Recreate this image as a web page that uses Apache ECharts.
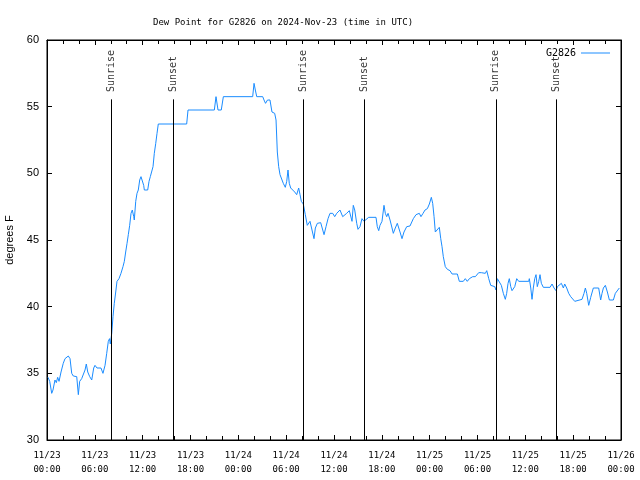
<!DOCTYPE html>
<html><head><meta charset="utf-8">
<script src="https://cdn.jsdelivr.net/npm/echarts@6/dist/echarts.min.js"></script>
<style>html,body{margin:0;padding:0;background:#fff}#c{width:640px;height:480px}</style>
</head><body><div id="c"></div>
<script>
// hours since 2024-11-23 00:00 UTC
const hours = [0.13,0.34,0.59,0.75,1.00,1.17,1.34,1.51,1.76,2.04,2.26,2.67,2.89,3.10,3.30,3.51,3.73,3.93,4.10,4.35,4.55,4.77,4.93,5.11,5.36,5.61,5.86,6.02,6.27,6.52,6.77,7.02,7.28,7.49,7.69,7.84,7.94,8.03,8.12,8.28,8.44,8.62,8.78,9.03,9.28,9.53,9.70,9.87,10.04,10.20,10.37,10.54,10.70,10.88,10.95,11.13,11.29,11.45,11.63,11.79,11.95,12.13,12.21,12.63,12.80,12.96,13.21,13.30,13.46,13.64,13.80,13.96,17.52,17.69,20.99,21.20,21.29,21.45,21.86,22.12,25.80,25.97,26.13,26.31,27.06,27.22,27.41,27.66,27.97,28.22,28.39,28.56,28.73,28.89,29.06,29.23,29.48,29.64,29.89,30.07,30.23,30.39,30.57,30.82,31.07,31.32,31.57,31.74,31.90,32.15,32.40,32.65,32.83,32.99,33.24,33.49,33.66,33.91,34.33,34.58,34.75,35.00,35.25,35.50,35.84,36.09,36.34,36.75,37.09,37.34,37.59,37.92,38.10,38.26,38.42,38.60,38.85,39.01,39.26,39.51,39.76,40.01,40.35,41.27,41.43,41.61,41.77,42.02,42.27,42.44,42.61,42.78,43.03,43.28,43.44,43.69,43.94,44.12,44.28,44.53,44.78,45.12,45.53,45.78,45.95,46.29,46.70,46.91,47.17,47.42,47.71,47.96,48.21,48.38,48.55,48.71,48.96,49.21,49.39,49.55,49.71,49.96,50.22,50.55,50.81,51.47,51.72,52.22,52.47,52.72,52.98,53.40,53.73,54.15,54.48,54.73,54.98,55.16,55.41,55.66,55.91,56.16,56.32,56.49,56.74,56.99,57.24,57.49,57.66,57.83,57.99,58.17,58.33,58.49,58.67,58.92,59.17,60.43,60.50,60.68,60.84,61.00,61.18,61.34,61.50,61.68,61.84,62.01,62.26,63.10,63.35,63.60,63.85,64.02,64.27,64.52,64.77,64.94,65.19,65.44,65.69,65.94,66.20,66.45,67.11,67.36,67.53,67.70,67.95,68.20,68.53,69.20,69.45,69.62,69.79,70.04,70.29,70.54,71.04,71.29,71.54,71.79];
const dewPoint = [34.7,34.4,33.5,33.75,34.5,34.3,34.7,34.4,35.1,35.75,36.1,36.3,36.1,35.0,34.8,34.95,34.75,33.4,34.4,34.6,34.75,35.25,35.7,35.1,34.75,34.5,35.4,35.6,35.4,35.5,35.4,35.0,35.6,36.5,37.4,37.6,37.2,37.1,38.0,39.25,40.25,41.1,41.9,42.1,42.5,43.0,43.4,44.1,44.75,45.4,46.1,47.0,47.25,46.75,46.5,47.9,48.5,48.75,49.5,49.75,49.75,49.1,48.75,48.75,49.4,49.75,49.75,50.5,51.5,52.25,53.0,53.7,53.7,54.75,54.75,55.75,55.75,54.75,54.75,55.75,55.75,56.75,56.25,55.75,55.75,55.5,55.25,55.5,55.5,54.6,54.75,54.5,54.0,51.6,50.5,49.9,49.75,49.25,48.95,49.4,50.25,49.25,48.9,48.75,48.6,48.4,48.9,48.4,47.9,47.7,46.9,46.1,46.0,46.4,46.25,45.1,45.9,46.25,46.3,46.3,45.4,46.0,46.6,47.0,47.0,46.75,47.0,47.25,46.75,46.75,47.0,47.2,47.25,46.4,47.6,47.25,46.25,45.8,46.0,46.6,46.4,46.4,46.7,46.7,46.0,45.7,46.1,46.4,47.6,47.0,46.75,47.0,46.5,45.9,45.5,45.9,46.25,46.25,45.6,45.1,45.6,46.0,46.05,46.05,46.6,46.9,47.0,46.75,47.0,47.25,47.35,47.7,48.2,47.75,46.75,45.6,45.6,45.95,45.1,44.5,43.75,43.0,42.8,42.7,42.45,42.45,41.9,41.9,42.1,41.9,42.1,42.25,42.25,42.55,42.55,42.7,42.5,42.7,42.1,41.6,41.45,41.5,41.25,42.1,42.0,41.6,41.0,40.55,41.0,41.75,42.1,41.5,41.2,41.2,41.5,42.1,41.9,41.9,42.1,41.4,40.55,41.4,42.1,42.4,41.5,41.9,42.4,41.75,41.45,41.45,41.7,41.4,41.2,41.5,41.4,41.75,41.4,41.7,41.4,41.0,40.75,40.9,40.4,40.55,40.55,41.0,41.4,41.0,40.1,40.7,41.4,41.4,40.5,41.0,41.4,41.6,41.1,40.5,40.5,41.0,41.1,41.4];
const sunHours = [8.07, 15.84, 32.15, 39.80, 56.29, 63.89];
const sunLabels = ['Sunrise', 'Sunset', 'Sunrise', 'Sunset', 'Sunrise', 'Sunset'];
const xTickLabels = ['11/23\n00:00','11/23\n06:00','11/23\n12:00','11/23\n18:00','11/24\n00:00','11/24\n06:00','11/24\n12:00','11/24\n18:00','11/25\n00:00','11/25\n06:00','11/25\n12:00','11/25\n18:00','11/26\n00:00'];
const seriesName = 'G2826';
const titleText = 'Dew Point for G2826 on 2024-Nov-23 (time in UTC)';
const yName = 'degrees F';

const mono = 'DejaVu Sans Mono';
const blue = '#1a8cff';
const chart = echarts.init(document.getElementById('c'), null, {renderer: 'canvas'});
const tickStyle = {color: '#000', width: 1};
const xCommon = {
  type: 'value', min: 0, max: 72, interval: 6,
  axisLine: {show: true, onZero: false, lineStyle: tickStyle},
  axisTick: {show: true, inside: true, length: 5, lineStyle: tickStyle},
  minorTick: {show: true, splitNumber: 3, length: 4, lineStyle: tickStyle},
  splitLine: {show: false}
};
const yCommon = {
  type: 'value', min: 30, max: 60, interval: 5,
  axisLine: {show: true, onZero: false, lineStyle: tickStyle},
  axisTick: {show: true, inside: true, length: 5, lineStyle: tickStyle},
  splitLine: {show: false}
};
chart.setOption({
  animation: false,
  backgroundColor: '#fff',
  title: {text: titleText, left: 148, top: 13,
    textStyle: {fontFamily: mono, fontSize: 9, fontWeight: 'normal', color: '#000'}},
  legend: {data: [seriesName], right: 25, top: 43, align: 'right', icon: 'rect',
    itemWidth: 29, itemHeight: 1, itemGap: 6,
    textStyle: {fontFamily: mono, fontSize: 10, color: '#000'}},
  grid: {left: 47, right: 19, top: 40, bottom: 40, show: true, borderColor: '#000', borderWidth: 1,
    containLabel: false, outerBoundsMode: 'none'},
  xAxis: [
    Object.assign({}, xCommon, {position: 'bottom',
      axisLabel: {formatter: v => xTickLabels[Math.round(v / 6)], fontFamily: mono, fontSize: 9,
        color: '#000', margin: 9, lineHeight: 14, showMinLabel: true, showMaxLabel: true}}),
    Object.assign({}, xCommon, {position: 'top', axisLabel: {show: false}})
  ],
  yAxis: [
    Object.assign({}, yCommon, {position: 'left', name: yName, nameLocation: 'middle', nameGap: 32, nameRotate: 90,
      nameTextStyle: {fontFamily: 'Liberation Sans', fontSize: 11, color: '#000'},
      axisLabel: {fontFamily: 'Liberation Sans', fontSize: 11, color: '#000', margin: 8}}),
    Object.assign({}, yCommon, {position: 'right', axisLabel: {show: false}})
  ],
  series: [
    {name: seriesName, type: 'line', symbol: 'none', showSymbol: false,
      data: hours.map((h, i) => [h, dewPoint[i]]),
      lineStyle: {color: blue, width: 1}, itemStyle: {color: blue},
      markLine: {silent: true, symbol: 'none', animation: false,
        lineStyle: {color: '#000', width: 1, type: 'solid'}, label: {show: false},
        data: sunHours.map(h => [{coord: [h, 30]}, {coord: [h, 55.55]}])}},
    {type: 'scatter', symbolSize: 0, silent: true,
      data: sunHours.map(h => [h, 56.1]),
      label: {show: true, formatter: p => sunLabels[p.dataIndex], position: [0, 0], rotate: 90,
        align: 'left', verticalAlign: 'middle', fontFamily: mono, fontSize: 10, color: '#000'}}
  ]
});
</script></body></html>
